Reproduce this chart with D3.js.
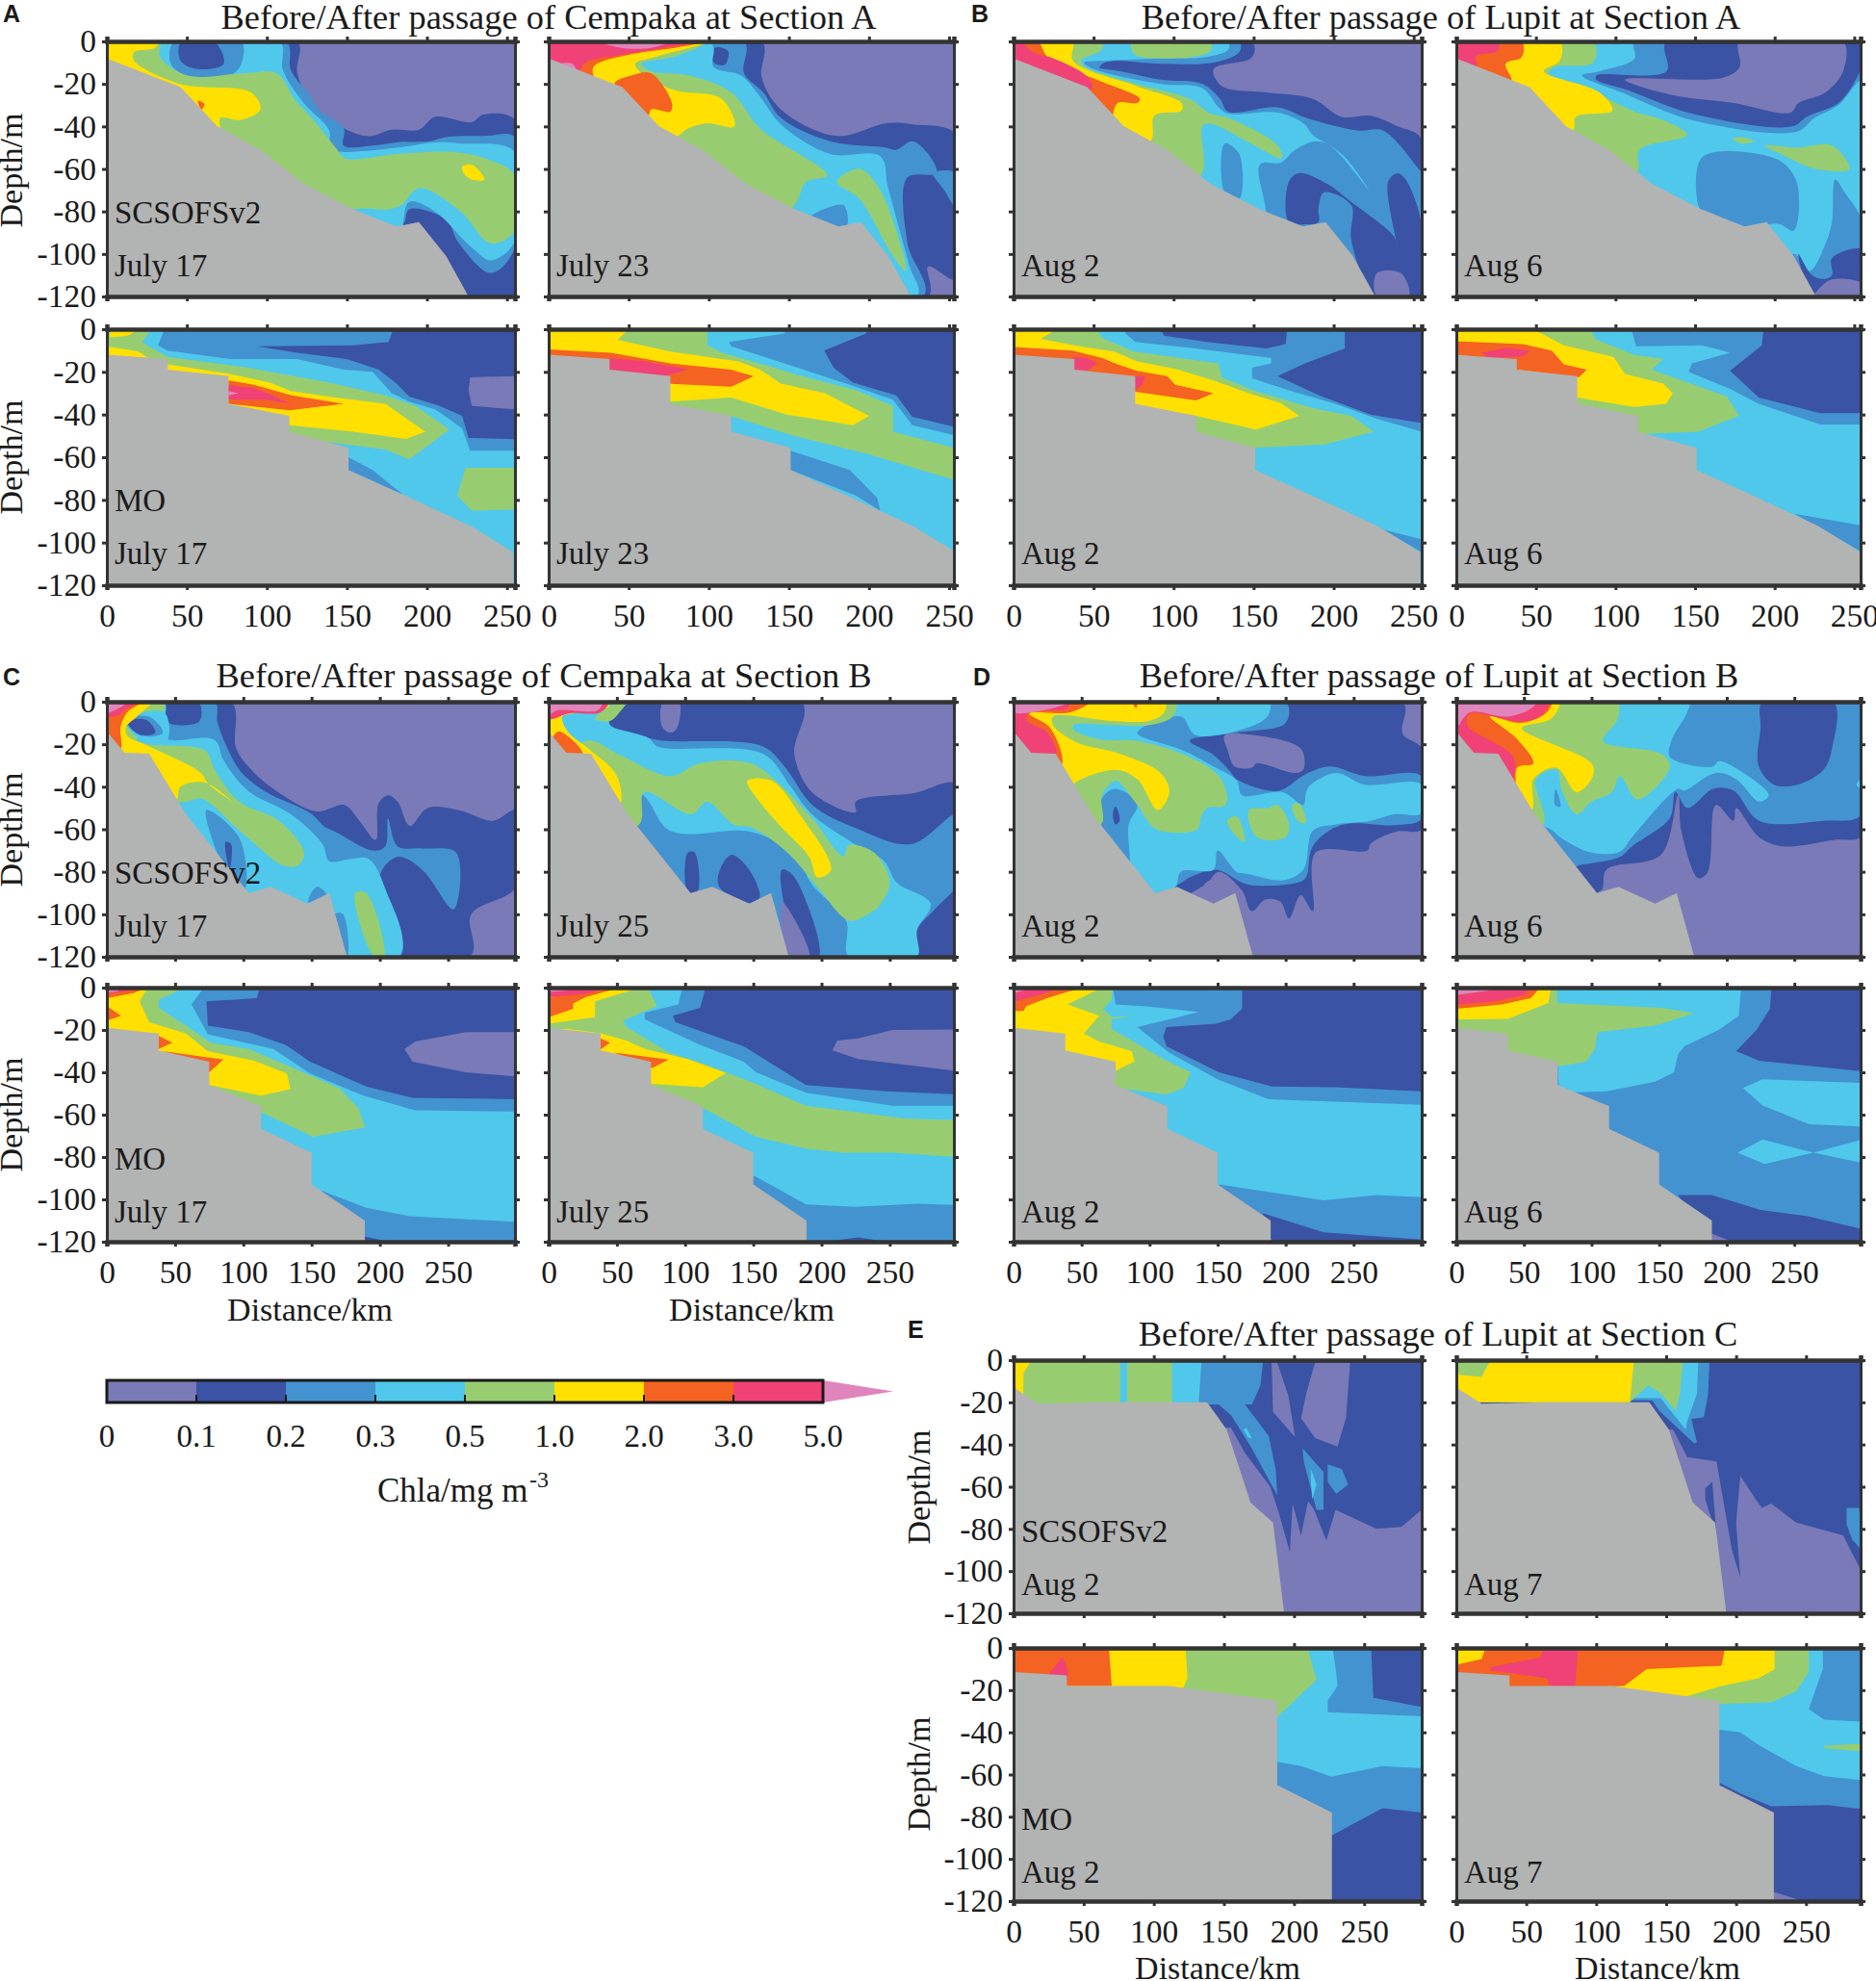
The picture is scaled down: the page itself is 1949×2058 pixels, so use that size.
<!DOCTYPE html>
<html>
<head>
<meta charset="utf-8">
<script src="https://cdn.jsdelivr.net/npm/d3@7"></script>
<style>
  html, body { margin: 0; padding: 0; background: #fff; }
  svg text { font-family: "Liberation Serif", serif; fill: #1a1a1a; }
</style>
</head>
<body>
<div id="chart"></div>
<script>
// class colours, lowest chla first
var class_colors = ['#7a7ab8', '#3a53a4', '#4393d0', '#4fc8ec', '#97cd70', '#ffe000', '#f46321', '#f04277', '#e085bb'];
var class_labels = ['0', '0.1', '0.2', '0.3', '0.5', '1.0', '2.0', '3.0', '5.0'];
var bed_color = '#b2b3b3';
var depth_ticks = [0, -20, -40, -60, -80, -100, -120];
var dist_ticks = [0, 50, 100, 150, 200, 250];

// sea bed outlines: km, depth pairs
var bed_a_scs = [0,-8, 46,-21.5, 69,-40, 96,-51, 123,-67, 154,-79, 181,-87, 195,-85, 212,-101, 226,-120, 0,-120];
var bed_a_mo = [0,-12, 38,-14, 38,-19, 76,-22, 76,-35, 114,-40.6, 114,-48, 151,-55.6, 151,-66, 185,-77.5, 228,-92.5, 254,-104.5, 254,-120, 0,-120];
var bed_b_scs = [0,-14, 13,-24, 31,-24.5, 58,-53, 104,-90, 120,-87, 147,-95, 163,-90, 176,-120, 0,-120];
var bed_b_mo = [0,-19, 38,-21.7, 38,-29.7, 75,-35, 75,-46, 113,-56, 113,-66.7, 150,-78, 150,-93, 189,-110, 189,-120, 0,-120];
var bed_c_scs = [0,-13, 18,-20.7, 63,-20, 138,-20, 152,-33, 169,-67.5, 185,-77, 193,-120, 0,-120];
var bed_c_mo = [0,-11.4, 38,-13, 38,-18, 111,-18, 188,-25, 188,-65, 227,-78, 227,-120, 0,-120];

// contour bands, painted in order: [class, km, depth, km, depth ...]
var bands_a1 = [
  [1, 0,0, 119,0, 119,-15, 131,-32, 162,-44.5, 178,-41.5, 195,-41.5, 205,-35.5, 228,-38, 235,-34.5, 255,-37, 255,-120, 0,-120],
  [2, 0,0, 112,0, 115,-13.5, 127,-25.7, 133,-32.5, 148,-41, 148,-49, 166,-49, 181,-47.5, 201,-47, 212,-45, 236,-44.5, 255,-45, 255,-97, 240,-109, 220,-95, 212,-84, 189,-79, 184,-87, 0,-120],
  [3, 0,0, 108,0, 110,-13.5, 123,-29, 139,-42, 139,-51, 146,-52, 181,-50, 205,-47.5, 220,-48, 255,-52, 255,-94, 240,-103, 228,-97, 205,-80, 189,-75.5, 185,-86, 180,-120, 0,-120],
  [2, 42,0, 40,-10.5, 50,-16, 77,-16, 84,-10.5, 84,0],
  [1, 46.5,0, 46,-9, 57,-13, 73,-10.5, 67,0],
  [4, 0,0, 33,0, 33,-7, 50,-16, 85,-15, 106,-15, 118,-28, 128,-36, 143,-50, 149,-55, 181,-53, 215,-52, 240,-56, 255,-63, 255,-89, 240,-95, 221,-80, 195,-69, 184,-77, 176,-79, 154,-79, 0,-120],
  [5, 0,0, 32,0, 30,-3, 17,-5, 17,-9, 46,-20, 90,-24, 96,-32, 83,-37, 71,-36, 70,-45, 0,-45],
  [5, 222,-59, 228,-58, 236,-65, 228,-65, 223,-62],
  [6, 57,-28, 61,-29.5, 59,-32]
];
var bands_a2 = [
  [1, 0,0, 133,0, 133,-17, 145,-32, 180,-44.5, 211,-38.5, 227,-39, 255,-44, 255,-112, 237,-106, 237,-120, 0,-120],
  [2, 0,0, 122,0, 122,-15, 134,-24, 145,-36, 176,-47, 211,-50, 217,-51, 227,-47, 238,-54, 242,-62, 224,-64, 224,-95, 234,-120, 0,-120],
  [2, 240,-62, 255,-62, 255,-79, 247,-70],
  [1, 103.5,-3, 112,-4.5, 110,-11, 103,-10],
  [3, 0,0, 100,0, 103,-3, 103,-12, 120,-16, 132,-26, 145,-39, 176,-53, 207,-54, 212,-69, 225,-105, 230,-120, 0,-120],
  [2, 163,-83, 184,-77, 186,-87, 174,-86],
  [4, 0,0, 99,0, 79,-7, 58,-10.5, 64,-14, 87,-16, 114,-24, 132,-41, 174,-63, 161,-66, 151,-79, 0,-120],
  [4, 180,-66, 194,-60, 207,-70, 223,-108, 215,-101, 194,-74],
  [5, 99,0, 68,-7, 54,-10.5, 58,-15, 79,-23, 108,-27, 116,-40, 99,-38.5, 87,-41, 79,-45, 0,-45, 0,0],
  [6, 0,0, 99,0, 79,-3, 52,-6, 28,-12, 28,-20, 0,-20],
  [6, 41,-20, 52,-16, 64,-15, 77,-29, 76,-33, 64,-32, 62,-35, 50,-35],
  [7, 0,0, 95,0, 72,-3, 48,-6, 23,-10, 19,-14, 0,-14],
  [8, 32,0, 76,0, 64,-3, 45,-3],
  [8, 8,-10.5, 15,-10.5, 17,-13.5]
];
var bands_a3 = [
  [0, 227,-22.5, 255,-22, 255,-37.6, 228,-36, 226,-28.6],
  [2, 0,0, 179,0, 176,-6, 154,-7.5, 94,-8, 119,-11, 150,-14, 170,-19, 181,-25.5, 189,-31.6, 208,-36, 222,-40.6, 226,-51, 255,-51.5, 255,-120, 0,-120],
  [3, 0,0, 36,0, 32,-7.5, 38,-10, 77,-14, 119,-14, 148,-19, 166,-20, 178,-30, 189,-34, 205,-37.6, 212,-41, 222,-46.6, 227,-57, 255,-57, 255,-120, 0,-120],
  [2, 151,-60, 166,-66, 185,-77.5, 151,-68],
  [4, 0,0, 28,0, 22,-6, 26,-8, 38,-13, 88,-18, 139,-25, 174,-31, 193,-36, 214,-47, 189,-61, 174,-56.4, 135,-52.6, 0,-60],
  [4, 224,-65, 255,-65, 255,-84.5, 228,-85, 219,-78],
  [5, 2,0, 18,-1, 13,-3, 2,-4],
  [5, 0,-8, 20,-10.5, 27,-14, 0,-14],
  [5, 38,-16.5, 77,-21, 102,-25, 115,-29, 143,-32, 174,-35, 199,-48, 187,-51.4, 154,-48, 114,-45, 76,-45, 38,-25],
  [6, 76,-24, 92,-26, 115.5,-31, 148,-35, 114,-38, 76,-35],
  [7, 76,-26, 94,-28, 115,-35, 100,-33, 76,-33],
  [8, 76,-29, 82.5,-30, 76,-31]
];
var bands_a4 = [
  [2, 0,0, 200,0, 198,-2, 172,-10, 178,-18, 190,-25, 217,-31, 227,-41, 255,-46, 255,-120, 0,-120],
  [3, 0,0, 149,0, 147,-2, 112.5,-6, 114,-8, 149,-16.5, 188,-26, 215,-33, 227,-45, 255,-50, 255,-120, 0,-120],
  [4, 0,0, 99,0, 99,-7.5, 108.5,-11, 141,-18, 153,-21, 192,-28.6, 215,-36, 215,-48, 255,-56, 255,-71, 200,-58.7, 153,-50, 113.6,-40.6, 0,-60],
  [2, 151,-57, 188,-66, 205,-79, 207,-85, 192,-78, 151,-66],
  [5, 0,0, 50,0, 43,-5, 76,-10.5, 118,-15, 132,-19, 145,-25.5, 172.5,-30, 200,-40.6, 190,-45, 149,-40, 114,-32, 76,-34, 0,-34],
  [6, 0,-9.5, 39,-11, 76,-16, 114,-19, 128,-22, 114,-27, 76,-25.6, 0,-25.6],
  [7, 38,-13.5, 60,-15, 87,-19, 72,-22, 38,-19]
];
var bands_b1 = [
  [1, 0,0, 149,0, 149,-7.5, 125,-13, 130,-21, 158,-24, 187,-27, 205,-35.5, 223,-35, 240,-40, 255,-46, 255,-120, 0,-120],
  [2, 0,0, 141,0, 141,-5, 125,-10, 92,-10.5, 57,-10, 50,-15, 0,-15],
  [2, 57,-13, 92,-18, 118,-20, 129,-27, 134,-33, 165,-31, 183,-36, 202,-40, 216,-42, 231,-42, 253,-60, 255,-62, 255,-120, 0,-120, 0,-13],
  [1, 172,-66, 178,-62, 196,-67, 211,-75.5, 238,-92, 240,-97, 234,-66, 240,-62, 245,-65, 255,-86, 255,-120, 227,-120, 211,-93.6, 211,-77, 194,-71, 190.5,-78.5, 190.5,-85, 183,-86, 172,-85],
  [0, 227,-109, 242,-109, 247,-120, 227,-120],
  [3, 0,0, 134,0, 134,-4, 119,-7.5, 92,-8, 59,-9, 44,-10, 50,-13, 92,-20, 118,-22, 128,-31, 134,-34, 165,-33.5, 181,-38.5, 187,-44, 201,-51, 222,-70, 205,-53, 190,-47, 176,-51, 167,-57, 154,-58, 155,-90, 0,-90],
  [2, 132,-48, 141,-53, 141,-74, 132,-71],
  [4, 0,0, 55,0, 55,-4, 42,-9, 45,-12, 77,-20, 110,-27, 123,-34, 134,-36, 165,-49, 167.5,-55, 147,-47.5, 119,-39, 116,-64, 0,-64],
  [4, 74,0, 123,0, 123,-4.5, 114,-7, 92,-8, 75.5,-6],
  [5, 15,0, 37,0, 37,-9, 77,-21, 105,-29, 105,-32.5, 88,-35, 85,-47.5, 0,-47.5, 0,0],
  [6, 4,0, 15,0, 22,-8, 52,-18, 79,-27, 77,-29, 65,-29, 62,-35.5, 62,-40, 0,-40, 0,0],
  [7, 0,0, 4,0, 12,-5, 25,-8, 46,-16.5, 49,-22, 0,-22]
];
var bands_b2 = [
  [2, 112,0, 112,-8, 90,-14, 79,-16, 104,-24, 148,-37, 214,-42.5, 225,-36, 240,-30, 251,-20, 255,-17, 255,0],
  [1, 132,0, 132,-14, 88,-16, 88,-18, 108,-23, 148,-34, 211,-40, 220,-35.5, 240,-29, 251,-18, 255,-10, 255,0],
  [0, 178,0, 243,0, 243,-14, 232,-24, 215,-29, 210,-33.5, 174,-29, 134,-25, 106,-18, 168,-17, 178,-12],
  [4, 0,0, 86,0, 86,-10, 62,-12, 58,-15, 90,-25, 112,-33, 130,-37, 145,-44, 115,-51, 113,-62, 0,-62],
  [5, 0,0, 65,0, 65,-9, 55,-14, 90,-24, 98,-32.5, 75,-35.5, 73,-42, 0,-42],
  [6, 0,0, 41,0, 41,-7.5, 31,-10.5, 34.5,-19, 0,-19],
  [7, 0,0, 26,0, 26,-4.5, 12.5,-7, 12.5,-12, 0,-12],
  [2, 153,-56, 163,-52, 203,-56, 214,-66.5, 212,-89, 203,-86, 181,-87, 163,-84.6, 153,-79],
  [2, 238,-65, 244,-71, 255,-85, 255,-120, 200,-120, 212,-100, 222,-108, 232,-95, 236,-85],
  [1, 215,-100, 223.5,-110, 231,-111.7, 236,-110, 236,-102, 255,-98, 255,-120, 225,-120],
  [0, 225,-120, 229,-115.5, 236,-112, 255,-114, 255,-120],
  [4, 194,-49, 214,-50, 236,-49, 247,-60, 226,-60, 204,-53],
  [4, 174,-46, 179,-45, 187,-47, 179,-48]
];
var bands_b3 = [
  [2, 0,0, 207,0, 207,-9, 182,-16, 165,-22, 191,-31, 223,-40, 255,-44, 255,-120, 0,-120],
  [1, 92,0, 171,0, 170,-7, 158,-9, 121,-6, 94,-3],
  [3, 0,0, 70,0, 70,-2, 76,-6, 114,-9, 161,-13.5, 161,-16, 149,-18, 149,-23, 172,-28.6, 201,-35, 227,-42, 255,-48, 255,-120, 0,-120],
  [2, 231,-94, 255,-98.5, 255,-104.5],
  [4, 0,0, 52,0, 55,-4, 75,-10.5, 128,-16, 130,-22.5, 150,-28.6, 187,-37, 211,-40.6, 225,-48, 194,-54, 152,-55.5, 100,-60, 0,-60],
  [5, 0,0, 27,0, 17,-4.5, 41,-8, 63,-10.5, 77,-15, 103,-19, 125,-24, 147,-30, 167,-34.6, 178.5,-40.6, 151.5,-47, 114,-40.6, 76,-36, 0,-36],
  [6, 2.5,-8.5, 37,-10, 55.5,-13.5, 65,-16.5, 77,-19.5, 96,-22, 101,-26, 125,-30, 114,-33.4, 76,-29.3, 0,-29.3, 0,-8.5],
  [7, 37,-13, 46,-13.5, 52.5,-16, 46,-19.5, 37,-19],
  [7, 76,-22, 82,-22, 81,-25.6, 76,-28.6]
];
var bands_b4 = [
  [2, 0,0, 193,0, 192,-7.5, 172,-19.5, 190,-32, 228.6,-39.4, 255,-39.4, 255,-120, 0,-120],
  [3, 0,0, 110,0, 113,-8, 154,-7.5, 172,-11, 148,-16, 146,-20, 172,-28, 190,-35, 228.6,-44.7, 255,-44.7, 255,-120, 0,-120],
  [2, 212.5,-86.5, 255,-92, 255,-104.5],
  [4, 0,0, 84,0, 88,-5, 111.5,-12, 130,-14, 122.6,-19, 170,-31.6, 177.6,-40.6, 152,-48, 121,-49, 0,-60],
  [5, 0,0, 51,0, 51,-1, 67.5,-7.5, 98.7,-13, 106,-21, 130,-25.5, 136,-30, 132,-35, 111.5,-36.4, 76,-32, 0,-32],
  [6, 2,-5.7, 42,-7, 60,-10, 67.5,-16.5, 82,-19, 77,-22.5, 38,-19, 0,-19, 0,-5.7],
  [7, 16,-11, 31,-8.7, 46,-10, 42,-12.8, 20,-13.5]
];
var bands_c1 = [
  [1, 0,0, 91,0, 94.5,-21.4, 103.6,-30.5, 122,-41, 153.6,-51.6, 174,-48.6, 185,-56, 197,-65, 199,-48, 206,-44, 213,-47, 222,-58.4, 235,-50, 258,-51, 283,-56, 300,-51, 300,-87, 267,-100, 266,-120, 0,-120],
  [2, 0,0, 79,0, 81,-9.4, 88,-21.4, 99,-33.5, 117,-42.6, 149,-52.4, 160,-59, 167,-61, 195,-70, 204,-68, 206,-55, 213,-68, 231,-69, 256,-71, 254,-97.7, 231,-79, 213,-73, 200,-82, 215,-120, 0,-120],
  [1, 44,0, 67,0, 68,-9, 52,-11, 44,-9],
  [3, 0,0, 42,0, 42,-8, 36,-15, 47,-18, 79,-18, 85.5,-27.5, 103.6,-42, 135,-53, 158,-67, 163,-75, 178,-74, 192,-74, 204,-88, 214,-120, 0,-120],
  [2, 148,-92.4, 154,-87, 161,-91, 148,-94.7],
  [2, 73,-51, 97,-64, 101,-88, 90,-82, 79,-68],
  [1, 87,-66, 91,-67, 90,-79],
  [2, 167,-100, 173,-100, 176,-120, 172,-120],
  [4, 0,0, 42,0, 41,-5, 30,-12, 22,-18, 31,-20, 72,-23, 79,-32, 97,-47, 126,-56, 144.5,-71, 140,-77, 129,-77, 108,-66.7, 94.5,-59, 69.5,-45.6, 58,-47, 0,-47],
  [3, 15,-8, 42,-5, 44.5,-17.7, 31,-20, 15,-11.6],
  [2, 13,-8.6, 31,-7, 41,-14.6, 25,-16],
  [1, 15,-9.4, 29,-8.6, 35.5,-14.6, 24,-15.4],
  [4, 182,-90, 190,-90, 203,-120, 196,-120],
  [5, 24,0, 33,0, 22,-7, 14,-12, 15,-16, 31,-21, 68,-33, 75,-39, 92,-47, 72,-38, 54,-40, 50,-47, 0,-47, 0,0],
  [6, 0,-5, 15,0, 26,0, 15,-5, 10,-12, 10,-22, 0,-22],
  [7, 0,-5, 15,0, 24,0, 14,-3.5, 8,-6.5, 0,-7],
  [8, 0,0, 15,0, 10,-2.6, 0,-5]
];
var bands_c2 = [
  [1, 0,0, 185.5,0, 180,-24.5, 193,-42.6, 225,-52, 225,-47, 268,-43, 300,-39, 300,-120, 0,-120],
  [0, 84,0, 95.5,0, 94,-12.4, 89,-14.6, 83,-11.6],
  [2, 0,0, 58,0, 45,-7, 45,-11, 61,-14.5, 80,-18, 157,-21, 173,-30.6, 193.6,-48.8, 225,-59.4, 266,-67, 300,-53, 300,-85, 284,-97, 268,-109, 268,-120, 0,-120],
  [3, 0,0, 58,0, 45,-7, 45,-11, 73,-17, 80,-21, 157,-24.5, 177,-39.6, 193,-53, 222,-66, 246,-75, 255,-85, 280,-95, 270,-107.5, 270,-120, 220,-120, 218,-103, 193,-86, 182,-73, 161,-64, 143,-60.7, 89,-60.7, 66,-42.6, 0,-42.6],
  [1, 102,-71, 107,-71, 109,-89.4, 102,-89.4],
  [1, 125,-80, 134,-72, 148,-80, 154.5,-92.4, 145.5,-94.7, 125,-87],
  [1, 171,-79, 179.5,-82, 198,-120, 184,-120, 173,-97],
  [0, 171,-94, 191,-120, 176,-120],
  [4, 27,-18.5, 52,-25, 89,-35, 111,-29, 148,-29, 170.5,-39.6, 193,-54.7, 216,-72.8, 220,-67.5, 238.6,-71, 250,-85, 243,-95.4, 234,-100, 220,-103, 198,-88, 175,-71, 148,-59, 136,-58, 116,-47, 104.5,-53, 70,-42.6, 66,-58, 0,-58],
  [4, 34,-8, 45,-2, 57,0, 52,-5, 45,-9],
  [5, 0,-5, 40,-1, 45,-2, 35,-4, 18,-5.5, 10,-7, 14,-14, 29,-22, 50,-35, 51,-50, 0,-50],
  [6, 7,-14, 25,-24.5, 0,-24.5],
  [7, 0,0, 44,0, 38,-5, 15,-5.5, 0,-8],
  [8, 0,0, 39,0, 36,-4, 7,-4, 0,-6],
  [5, 145.5,-37.3, 163.6,-37.3, 184,-53, 207,-79, 197,-82.6, 191,-73, 170.5,-59, 154.5,-47]
];
var bands_c3 = [
  [0, 218,-29, 226,-25.5, 263,-21, 300,-21, 300,-42, 263,-40, 224,-35],
  [2, 0,0, 112,0, 110,-5, 73,-6.5, 74,-18, 104,-21, 131,-27, 149,-35, 190,-46.7, 224,-52, 300,-52.7, 300,-120, 0,-120],
  [3, 0,0, 71,0, 62,-8, 74,-22, 122,-29, 149,-40.6, 188,-51, 226,-58, 300,-58.5, 300,-110.6, 222,-108, 190,-104, 158,-96, 0,-120],
  [1, 189,-117.6, 208,-120, 189,-120],
  [4, 0,0, 57,0, 38,-5.8, 38,-9.5, 58,-18, 76,-26, 104,-29, 135,-37.6, 170,-47.4, 184.5,-57, 189,-66, 151,-70.4, 113,-58.8, 0,-60],
  [5, 0,0, 30,0, 24,-6.5, 31,-16.4, 58,-21.7, 74,-30, 108,-34.5, 132,-40.6, 134.5,-48, 113,-51, 75,-46, 0,-46],
  [6, 0,-8.8, 10.5,-13.3, 0,-15.6],
  [6, 38,-22.7, 48,-26, 38,-29],
  [6, 41,-30, 85.5,-34, 75,-40],
  [6, 0,0, 29,0, 20,-2.5, 0,-5],
  [7, 0,0, 22,0, 14,-1.7, 0,-3],
  [8, 0,0, 8,0, 8,-1.8, 0,-2.4]
];
var bands_c4 = [
  [0, 208,-29.7, 211.5,-25, 227,-24, 252,-20, 300,-19.7, 300,-39.4, 243,-35, 227,-33.8],
  [2, 0,0, 115,0, 111,-9.5, 91,-13.3, 93,-16.4, 143,-27.7, 188.6,-46, 248,-49, 300,-50.4, 300,-120, 0,-120],
  [3, 0,0, 98,0, 95,-8, 70.5,-11.8, 70.5,-15, 111,-27, 143,-35, 152,-40, 188.6,-49.7, 252,-55.8, 300,-55.8, 300,-102.7, 270,-102, 225,-103.5, 188.6,-102.4, 151,-89, 0,-120],
  [1, 202,-120, 227,-118, 248,-120],
  [4, 0,0, 72.7,0, 79.5,-8.8, 54.5,-15.6, 57,-18.6, 88.6,-30.8, 113.6,-36, 150,-45, 188.6,-55.8, 261,-61.8, 300,-62.6, 300,-80, 252,-78, 216,-78, 188.6,-76, 152,-70.4, 113.6,-57, 0,-60],
  [5, 0,0, 67,0, 34,-6.5, 34,-14, 0,-17],
  [5, 14,-19.4, 39,-21.7, 57,-25, 70.5,-29, 102,-33.8, 130,-40.3, 113,-47, 76,-45.5, 0,-45, 0,-20],
  [6, 0,-4.5, 52,0, 27,-4.5, 18,-7.5, 18,-10, 0,-14],
  [6, 38,-24, 45,-26, 38,-29.2],
  [6, 48,-30.7, 88,-34, 76,-38],
  [7, 0,0, 45,0, 27,-3, 0,-4.5],
  [8, 0,0, 18,0, 12,-1.5, 0,-2]
];
var bands_d1 = [
  [1, 0,0, 286,0, 286,-15, 300,-22, 300,-60, 282,-61, 262.5,-66.7, 260,-70, 222,-71, 220,-98.5, 211,-91, 202.5,-102, 196,-94, 185,-93, 175,-98.5, 168,-89, 151,-80, 140,-86.4, 0,-120],
  [0, 155,-16, 172.5,-15.4, 211,-22, 213,-32, 207,-33.5, 179,-29, 175,-31, 162.5,-30.5, 157.5,-23],
  [0, 140,-86.4, 150.5,-83, 165,-90, 150,-95],
  [2, 0,0, 200,0, 200,-10, 164,-14.6, 129.5,-18.4, 147,-25, 160,-33.5, 164,-36.5, 194,-42, 215,-34, 232.6,-30.5, 258,-35, 300,-35, 300,-55, 282,-58, 241,-58, 220,-68, 215,-82.6, 209,-85, 172.5,-86, 149,-79, 129.5,-82.6, 121,-86, 0,-120],
  [3, 0,0, 187.5,0, 187.5,-6, 177,-11, 134,-15.7, 123,-7, 91,-14.6, 125,-23, 147,-30.5, 164,-37, 168,-44, 198,-42.6, 213,-48.6, 215,-42.6, 217.5,-39.6, 237,-33.5, 258,-39, 300,-39, 300,-52.4, 280,-53, 262.5,-56, 237,-57.7, 220,-60.7, 213,-79, 198,-84, 172.5,-81, 164,-80, 150,-70, 147,-79, 123,-80, 119,-87, 104,-90, 0,-120],
  [2, 75,-41, 91,-48, 84.5,-58, 84.5,-76, 65,-59, 65,-45.5],
  [1, 75,-49.4, 78,-56, 75,-57.7, 73,-53],
  [4, 0,0, 119,0, 117,-7, 99.5,-11, 72,-11, 44,-11, 44,-13, 63,-17.7, 91,-18.4, 129.5,-26, 151,-35, 157,-45, 155,-49, 142,-50, 138,-54, 135,-60, 105,-60, 91,-48.6, 78,-38, 75,-37, 65,-44, 64,-58, 0,-58],
  [4, 157,-56, 164,-54, 170,-66, 164,-63.5],
  [4, 173,-51, 187.5,-50, 194,-48.6, 202.5,-57.7, 200,-63.7, 179,-63.7],
  [4, 204.6,-48.6, 210,-48, 215,-57, 209,-56],
  [5, 0,0, 111.5,0, 110,-5.6, 99.5,-9, 72,-9, 29,-7, 29,-11, 46,-19, 78,-24.5, 108,-33.5, 114.5,-42.6, 106,-51, 91,-36.5, 75,-32, 44,-39, 44,-42.6, 0,-42.6],
  [6, 0,0, 56,0, 41.6,-5, 11.6,-5.6, 27,-12.4, 35,-30, 0,-30],
  [6, 87.5,0, 91,0, 90,-3],
  [7, 0,0, 41,0, 39,-3.3, 11,-5, 10,-9, 24,-14, 31,-24.5, 0,-24.5],
  [8, 0,0, 41.6,0, 25,-3.6, 0,-4.8]
];
var bands_d2 = [
  [1, 0,0, 300,0, 300,-63, 280,-65, 241.5,-68, 224,-63.7, 207,-50, 205,-56, 192,-48.6, 186,-80, 179,-83, 166.4,-60.7, 164,-44, 151.4,-72, 111,-79, 108,-88, 104,-90, 0,-120],
  [2, 0,0, 300,0, 300,-53, 271.6,-56, 224,-56, 205,-41.8, 190,-41, 171,-50, 162,-42.6, 158,-54.7, 130,-68, 121,-73, 100,-76, 87,-78, 0,-120],
  [1, 226.5,0, 279,0, 278,-21.4, 271.6,-32, 252,-39, 235,-39, 223.5,-30, 225,-12.4],
  [3, 0,0, 172,0, 170.7,-5, 159,-18.4, 158,-26, 190,-30.5, 194,-28, 213.6,-34, 231,-44, 224,-47, 207,-36.5, 192,-33.5, 168.6,-41.8, 164,-41, 130,-63.7, 121,-70.5, 100,-71, 78.5,-64.5, 66,-59, 0,-59],
  [3, 296,-39, 300,-36, 300,-41],
  [4, 0,0, 119,0, 119,-8.6, 108.5,-18.4, 151.4,-24.5, 158,-30.5, 134,-46, 121,-35, 115,-42.6, 100,-47, 89,-53, 78.5,-42.6, 74,-32, 59,-36.5, 64,-58, 0,-58],
  [2, 73.5,-41, 77,-49.4, 73,-48.6],
  [5, 0,0, 76,0, 70,-8, 48.5,-12.4, 100,-29, 101,-35, 89,-42.6, 74,-31, 57,-36.5, 55,-51.6, 0,-51.6],
  [6, 0,0, 70,0, 67,-5, 48,-10, 25,-7, 44,-17, 57,-29, 45,-31, 42,-42, 0,-42],
  [7, 0,0, 68,0, 63,-6.3, 48.5,-9.4, 10,-5.6, 8,-11, 42,-26, 40,-38, 0,-38],
  [8, 0,0, 59,0, 55,-3.3, 38,-7, 10,-5, 1,-11.6, 0,-11.6]
];
var bands_d3 = [
  [2, 0,0, 168,0, 168,-10, 159.6,-15, 149,-17, 112.4,-18.6, 110,-23, 112.4,-27.7, 151,-40, 190,-46.7, 237,-47, 300,-49, 300,-120, 0,-120],
  [3, 0,0, 73,0, 75,-8, 100,-9, 136,-11.5, 121,-14, 91,-18.6, 114.5,-30.8, 151,-43.6, 187.5,-52.7, 300,-55.3, 300,-99, 267,-98, 228,-100.4, 152,-93, 0,-120],
  [1, 183,-106.5, 228,-115.6, 300,-119, 300,-120, 190,-120],
  [4, 0,0, 73,0, 72,-5.8, 66,-10, 72,-14, 86.7,-13.3, 72,-15, 72,-19.4, 110,-33.8, 130,-40, 125,-47.4, 112.4,-50.4, 76,-47.4, 0,-47],
  [5, 0,0, 65,0, 39.5,-8, 63,-13.3, 51.5,-21.7, 63,-25.5, 86.7,-30, 89,-34.8, 76,-39, 0,-39],
  [6, 0,0, 50,0, 24.5,-5, 9.4,-8.8, 7.3,-11, 0,-11],
  [7, 0,0, 36,0, 16,-4, 1,-6.5, 0,-6.5],
  [8, 0,0, 14,0, 0,-2.7]
];
var bands_d4 = [
  [1, 233,0, 232,-10, 222,-20, 207,-30, 224,-34.5, 300,-39.5, 300,0],
  [3, 212,-47.4, 226.5,-43.3, 300,-45, 300,-65.6, 261,-64.5, 226.5,-55.7],
  [3, 208,-78, 226.5,-71.7, 264,-78, 300,-71.7, 300,-82.7, 264,-78, 228,-83.3],
  [1, 164,-98, 189,-98, 225,-105, 260,-108, 300,-114, 300,-120, 189,-120],
  [0, 188,-116, 204,-120, 188,-120],
  [3, 0,0, 210.6,0, 209,-13.3, 194,-20, 168.6,-27.7, 164,-31.5, 161,-40, 147,-44.4, 111,-49, 76,-49.7, 75,-36.8, 0,-60],
  [4, 0,0, 74,0, 75,-7.3, 151.4,-9.5, 176,-12, 147,-18, 104.5,-21, 102.5,-29, 96,-35, 76,-37, 0,-40],
  [5, 0,0, 70,0, 68,-7.3, 38,-14.8, 0,-15],
  [6, 0,0, 62,0, 55,-5, 33.5,-8, 0,-10],
  [7, 0,0, 55,0, 50.6,-3.5, 29,-6.5, 0,-8],
  [8, 0,0, 33.5,0, 23,-1.5, 0,-3.5]
];
var bands_e1 = [
  [1, 0,0, 291,0, 291,-71, 276.5,-79, 258.7,-80, 229.7,-71, 223,-85.6, 214,-70.5, 210,-67, 205,-83, 199,-68, 197,-91, 189,-72, 183,-60, 165,-44, 155,-32, 0,-32],
  [0, 184,-1, 188,-1, 196,-17, 200.7,-36.5, 185,-24.5],
  [0, 215,-1, 240,-1, 237,-27.5, 231,-41, 215,-37, 205,-27.5, 209,-15],
  [2, 0,0, 178,0, 176,-12, 170,-21, 165,-21, 182,-36, 187,-52, 188,-64, 170,-42, 155,-26, 146,-21, 0,-21],
  [3, 166,-32, 170,-37.3, 167,-36.5, 164,-33],
  [2, 206,-41.8, 221,-53, 221,-71, 216,-71, 207,-48.3],
  [3, 212,-51.6, 216,-59, 213,-66, 212,-58],
  [2, 224,-49.4, 234,-51.6, 238.6,-59, 230,-63.4, 224,-57.7],
  [3, 0,0, 134,0, 132,-21, 0,-21],
  [4, 0,0, 113,0, 113,-21, 0,-21],
  [3, 76,0, 81,0, 81,-21, 76,-21],
  [5, 0,0, 13,0, 7,-6, 7,-18, 0,-18]
];
var bands_e2 = [
  [1, 0,0, 291,0, 291,-102, 276.5,-83, 243,-77, 225,-68, 218.5,-70, 214,-66, 203,-54.7, 200,-77, 203,-103, 197,-90, 186,-48, 165,-46, 155,-33, 0,-33],
  [0, 178,-60.7, 183,-57.7, 186,-70, 178,-66],
  [1, 178,-60.7, 183,-57.7, 186,-83, 178,-66],
  [2, 279,-70, 288,-70, 291,-91, 283,-85, 279,-78],
  [2, 160,0, 181,0, 180,-16, 177,-27, 168,-28, 172,-39, 170,-39.5, 158,-32, 145,-24, 140,-19, 0,-19],
  [3, 0,0, 173,0, 172,-16, 165,-29, 164,-33, 146,-18, 0,-18],
  [4, 0,0, 162,0, 160,-15, 157,-24, 145,-15, 137,-12, 124,-20, 0,-20],
  [5, 0,0, 127,0, 124,-20, 0,-20],
  [4, 0,0, 24.5,0, 18,-8, 2,-7]
];
var bands_e3 = [
  [2, 0,0, 255,0, 256.5,-23.6, 291,-28, 291,-120, 0,-120],
  [3, 0,0, 227.5,0, 230,-11.4, 231,-18, 224,-25, 224,-30.4, 291,-32.4, 291,-57, 263,-56, 226.6,-61, 205,-56, 188,-54, 0,-60],
  [1, 226.6,-89, 263,-76, 291,-78, 291,-120, 226,-120],
  [4, 0,0, 209.6,0, 216,-15, 188,-32.7, 0,-40],
  [5, 0,0, 122.6,0, 124,-14.4, 121,-19, 0,-19],
  [6, 0,0, 68,0, 70,-18, 0,-18],
  [7, 25,-12.5, 35,-4, 39,-12, 39,-14, 25,-14]
];
var bands_e4 = [
  [2, 0,0, 291,0, 291,-76.5, 265,-74.5, 225,-75, 188.6,-65, 0,-80],
  [1, 188.6,-64, 225,-76.8, 188.6,-66.5],
  [0, 226.6,-115.5, 247.6,-120, 226.6,-120],
  [3, 0,0, 262,0, 262,-10, 252,-29, 263,-34, 291,-35, 291,-62.8, 263,-60.8, 243,-56, 216,-46, 203,-40, 188.6,-38.8, 0,-60],
  [4, 0,0, 252,0, 252,-11.4, 243,-20.5, 225,-25.8, 188.6,-26.6, 165,-23, 0,-40],
  [4, 263,-46.4, 291,-45.3, 291,-49, 263,-47.6],
  [5, 0,0, 227.5,0, 227.5,-10, 216,-14.4, 189.6,-18, 165,-22.8, 0,-40],
  [6, 0,0, 192,0, 189.6,-8.4, 136,-10, 120,-18, 0,-20],
  [5, 0,0, 21,0, 18,-5.3, 0,-8],
  [7, 62.4,0, 87,0, 85,-18, 67,-18, 64.7,-14.4, 24.5,-10.6, 24.5,-9, 60,-4.6]
];

// panel table, built from the arrays above
var panels = [
  {bands: bands_a1, base: 0, bed: bed_a_scs, max: 255, l: 111, r: 535, t: 43, b: 308, name: 'SCSOFSv2', date: 'July 17', yl: 1, smooth: 1},
  {bands: bands_a2, base: 0, bed: bed_a_scs, max: 253, l: 570, r: 991, t: 43, b: 308, date: 'July 23', smooth: 1},
  {bands: bands_a3, base: 1, bed: bed_a_mo, max: 255, l: 111, r: 535, t: 342, b: 608, name: 'MO', date: 'July 17', yl: 1, xl: 1},
  {bands: bands_a4, base: 1, bed: bed_a_mo, max: 253, l: 570, r: 991, t: 342, b: 608, date: 'July 23', xl: 1},
  {bands: bands_b1, base: 0, bed: bed_a_scs, max: 255, l: 1053, r: 1477, t: 43, b: 308, date: 'Aug 2', smooth: 1},
  {bands: bands_b2, base: 3, bed: bed_a_scs, max: 254, l: 1513, r: 1933, t: 43, b: 308, date: 'Aug 6', smooth: 1},
  {bands: bands_b3, base: 1, bed: bed_a_mo, max: 255, l: 1053, r: 1477, t: 342, b: 608, date: 'Aug 2', xl: 1},
  {bands: bands_b4, base: 1, bed: bed_a_mo, max: 254, l: 1513, r: 1933, t: 342, b: 608, date: 'Aug 6', xl: 1},
  {bands: bands_c1, base: 0, bed: bed_b_scs, max: 299, l: 111, r: 535, t: 729, b: 994, name: 'SCSOFSv2', date: 'July 17', yl: 1, smooth: 1},
  {bands: bands_c2, base: 0, bed: bed_b_scs, max: 297, l: 570, r: 991, t: 729, b: 994, date: 'July 25', smooth: 1},
  {bands: bands_c3, base: 1, bed: bed_b_mo, max: 299, l: 111, r: 535, t: 1026, b: 1290, name: 'MO', date: 'July 17', yl: 1, xl: 1},
  {bands: bands_c4, base: 1, bed: bed_b_mo, max: 297, l: 570, r: 991, t: 1026, b: 1290, date: 'July 25', xl: 1},
  {bands: bands_d1, base: 0, bed: bed_b_scs, max: 300, l: 1053, r: 1477, t: 729, b: 994, date: 'Aug 2', smooth: 1},
  {bands: bands_d2, base: 0, bed: bed_b_scs, max: 299, l: 1513, r: 1933, t: 729, b: 994, date: 'Aug 6', smooth: 1},
  {bands: bands_d3, base: 1, bed: bed_b_mo, max: 300, l: 1053, r: 1477, t: 1026, b: 1290, date: 'Aug 2', xl: 1},
  {bands: bands_d4, base: 2, bed: bed_b_mo, max: 299, l: 1513, r: 1933, t: 1026, b: 1290, date: 'Aug 6', xl: 1},
  {bands: bands_e1, base: 0, bed: bed_c_scs, max: 291, l: 1053, r: 1477, t: 1413, b: 1676, name: 'SCSOFSv2', date: 'Aug 2', yl: 1},
  {bands: bands_e2, base: 0, bed: bed_c_scs, max: 289, l: 1513, r: 1933, t: 1413, b: 1676, date: 'Aug 7'},
  {bands: bands_e3, base: 1, bed: bed_c_mo, max: 291, l: 1053, r: 1477, t: 1712, b: 1975, name: 'MO', date: 'Aug 2', yl: 1, xl: 1},
  {bands: bands_e4, base: 1, bed: bed_c_mo, max: 289, l: 1513, r: 1933, t: 1712, b: 1975, date: 'Aug 7', xl: 1}
];

var titles = [
  ['Before/After passage of Cempaka at Section A', 570, 30],
  ['Before/After passage of Lupit at Section A', 1497, 30],
  ['Before/After passage of Cempaka at Section B', 565, 714],
  ['Before/After passage of Lupit at Section B', 1495, 714],
  ['Before/After passage of Lupit at Section C', 1494, 1398]
];
var letters = [['A', 3, 23], ['B', 1009, 23], ['C', 3, 712], ['D', 1011, 712], ['E', 943, 1390]];
var depth_labels = [[23, 177], [23, 475], [23, 862], [23, 1158], [966, 1545], [966, 1843]];
var dist_labels = [[322, 1372], [781, 1372], [1265, 2056], [1722, 2056]];

var svg = d3.select('#chart').append('svg')
    .attr('width', 1949)
    .attr('height', 2058)
    .style('display', 'block');

panels.forEach(draw_panel);
draw_text();
draw_colorbar();

function draw_panel(p, i){
    var x = d3.scaleLinear().domain([0, p.max]).range([p.l, p.r]);
    var y = d3.scaleLinear().domain([0, -120]).range([p.t, p.b]);
    var line = d3.line().x(function(d){ return x(d[0]); }).y(function(d){ return y(d[1]); });
    var band_line = d3.line().x(function(d){ return x(d[0]); }).y(function(d){ return y(d[1]); })
        .curve(p.smooth ? d3.curveCatmullRomClosed.alpha(0.5) : d3.curveLinearClosed);

    svg.append('clipPath').attr('id', 'clip-' + i)
        .append('rect')
        .attr('x', p.l).attr('y', p.t)
        .attr('width', p.r - p.l).attr('height', p.b - p.t);

    var g = svg.append('g').attr('clip-path', 'url(#clip-' + i + ')');
    g.append('rect')
        .attr('x', p.l).attr('y', p.t)
        .attr('width', p.r - p.l).attr('height', p.b - p.t)
        .attr('fill', class_colors[p.base]);
    g.selectAll('path.band')
        .data(p.bands)
        .enter().append('path')
        .attr('class', 'band')
        .attr('fill', function(d){ return class_colors[d[0]]; })
        .attr('d', function(d){ return band_line(pairs(d.slice(1))); });
    g.append('path')
        .attr('fill', bed_color)
        .attr('d', line(pairs(p.bed)) + 'Z');

    var top = d3.axisTop(x).tickValues(dist_ticks).tickSize(5).tickFormat('');
    var bottom = d3.axisBottom(x).tickValues(dist_ticks).tickSize(5);
    bottom.tickFormat(p.xl ? function(d){ return d; } : '').tickPadding(14);
    var left = d3.axisLeft(y).tickValues(depth_ticks).tickSize(5).tickPadding(6);
    left.tickFormat(p.yl ? function(d){ return String(d); } : '');
    var right = d3.axisRight(y).tickValues(depth_ticks).tickSize(5).tickFormat('');

    style_axis(svg.append('g').attr('transform', 'translate(0,' + p.t + ')').call(top), 4.5);
    style_axis(svg.append('g').attr('transform', 'translate(0,' + p.b + ')').call(bottom), 4.5);
    style_axis(svg.append('g').attr('transform', 'translate(' + p.l + ',0)').call(left), 3);
    style_axis(svg.append('g').attr('transform', 'translate(' + p.r + ',0)').call(right), 3);

    if(p.name){
        svg.append('text')
            .attr('x', p.l + 8).attr('y', p.t + 189)
            .attr('font-size', 33)
            .text(p.name);
    }
    svg.append('text')
        .attr('x', p.l + 8).attr('y', p.t + 244)
        .attr('font-size', 33)
        .text(p.date);
}

function style_axis(sel, w){
    sel.selectAll('.domain').attr('stroke', '#333').attr('stroke-width', w);
    sel.selectAll('.tick line').attr('stroke', '#333').attr('stroke-width', 3);
    sel.selectAll('text')
        .attr('font-size', 33.5)
        .style('font-family', '"Liberation Serif", serif')
        .attr('fill', '#1a1a1a');
}

function pairs(flat){
    var out = [];
    for(var i = 0; i < flat.length; i += 2){
        out.push([flat[i], flat[i + 1]]);
    }
    return out;
}

function draw_text(){
    svg.selectAll('text.title')
        .data(titles)
        .enter().append('text')
        .attr('class', 'title')
        .attr('x', function(d){ return d[1]; })
        .attr('y', function(d){ return d[2]; })
        .attr('text-anchor', 'middle')
        .attr('font-size', 36.4)
        .text(function(d){ return d[0]; });
    svg.selectAll('text.letter')
        .data(letters)
        .enter().append('text')
        .attr('class', 'letter')
        .attr('x', function(d){ return d[1]; })
        .attr('y', function(d){ return d[2]; })
        .attr('font-size', 25)
        .attr('font-weight', 'bold')
        .style('font-family', '"Liberation Sans", sans-serif')
        .text(function(d){ return d[0]; });
    svg.selectAll('text.depth')
        .data(depth_labels)
        .enter().append('text')
        .attr('class', 'depth')
        .attr('text-anchor', 'middle')
        .attr('transform', function(d){ return 'translate(' + d[0] + ',' + d[1] + ') rotate(-90)'; })
        .attr('font-size', 34)
        .text('Depth/m');
    svg.selectAll('text.dist')
        .data(dist_labels)
        .enter().append('text')
        .attr('class', 'dist')
        .attr('x', function(d){ return d[0]; })
        .attr('y', function(d){ return d[1]; })
        .attr('text-anchor', 'middle')
        .attr('font-size', 34)
        .text('Distance/km');
}

function draw_colorbar(){
    var n = class_labels.length - 1;
    var x = d3.scaleLinear().domain([0, n]).range([111, 855]);
    var top = 1434, bot = 1457;
    svg.selectAll('rect.swatch')
        .data(d3.range(n))
        .enter().append('rect')
        .attr('class', 'swatch')
        .attr('x', function(d){ return x(d); })
        .attr('y', top)
        .attr('width', x(1) - x(0))
        .attr('height', bot - top)
        .attr('fill', function(d){ return class_colors[d]; });
    svg.append('path')
        .attr('d', 'M855,' + top + 'L928,' + ((top + bot) / 2) + 'L855,' + bot + 'Z')
        .attr('fill', class_colors[8]);
    svg.append('rect')
        .attr('x', 111).attr('y', top)
        .attr('width', 744).attr('height', bot - top)
        .attr('fill', 'none')
        .attr('stroke', '#1a1a1a')
        .attr('stroke-width', 3);
    svg.selectAll('line.cb')
        .data(d3.range(1, n))
        .enter().append('line')
        .attr('class', 'cb')
        .attr('x1', function(d){ return x(d); })
        .attr('x2', function(d){ return x(d); })
        .attr('y1', bot)
        .attr('y2', bot - 8)
        .attr('stroke', '#1a1a1a')
        .attr('stroke-width', 2);
    svg.selectAll('text.cb')
        .data(class_labels)
        .enter().append('text')
        .attr('class', 'cb')
        .attr('x', function(d, i){ return x(i); })
        .attr('y', 1503)
        .attr('text-anchor', 'middle')
        .attr('font-size', 33)
        .text(function(d){ return d; });
    svg.append('text')
        .attr('x', 392).attr('y', 1560)
        .attr('font-size', 35)
        .text('Chla/mg m');
    svg.append('text')
        .attr('x', 550).attr('y', 1545)
        .attr('font-size', 24)
        .text('-3');
}
</script>
</body>
</html>
